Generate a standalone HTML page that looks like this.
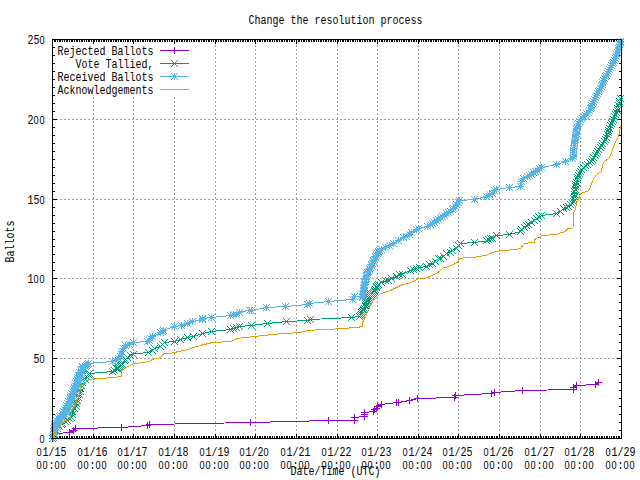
<!DOCTYPE html><html><head><meta charset="utf-8"><title>Change the resolution process</title><style>html,body{margin:0;padding:0;background:#fff;}svg{display:block}text{font-family:"Liberation Mono","DejaVu Sans Mono",monospace;font-size:12px;fill:#000}.z{font-family:"Liberation Sans",sans-serif;font-size:11px}</style></head><body>
<svg width="640" height="480" viewBox="0 0 640 480">
<rect width="640" height="480" fill="#fff"/>
<defs>
<path id="mp" d="M-3 0h1v1h-1zM-2 0h1v1h-1zM-1 0h1v1h-1zM0 0h1v1h-1zM1 0h1v1h-1zM2 0h1v1h-1zM3 0h1v1h-1zM0 -3h1v1h-1zM0 -2h1v1h-1zM0 -1h1v1h-1zM0 1h1v1h-1zM0 2h1v1h-1zM0 3h1v1h-1z"/>
<path id="mx" d="M-3 -3h1v1h-1zM-2 -2h1v1h-1zM-1 -1h1v1h-1zM0 0h1v1h-1zM1 1h1v1h-1zM2 2h1v1h-1zM3 3h1v1h-1zM-3 3h1v1h-1zM-2 2h1v1h-1zM-1 1h1v1h-1zM1 -1h1v1h-1zM2 -2h1v1h-1zM3 -3h1v1h-1z"/>
<path id="ms" d="M-3 -3h1v1h-1zM-3 0h1v1h-1zM-3 3h1v1h-1zM0 2h1v1h-1zM2 2h1v1h-1zM1 0h1v1h-1zM-2 -2h1v1h-1zM-1 -1h1v1h-1zM-1 1h1v1h-1zM3 -3h1v1h-1zM3 0h1v1h-1zM3 3h1v1h-1zM0 -1h1v1h-1zM0 -2h1v1h-1zM0 1h1v1h-1zM2 -2h1v1h-1zM-2 0h1v1h-1zM-1 0h1v1h-1zM0 -3h1v1h-1zM0 0h1v1h-1zM1 1h1v1h-1zM0 3h1v1h-1zM2 0h1v1h-1zM1 -1h1v1h-1zM-2 2h1v1h-1z"/>
</defs>
<path d="M93.5 439V97M133.5 439V97M174.5 439V97M215.5 439V40M255.5 439V40M296.5 439V40M337.5 439V40M377.5 439V40M418.5 439V40M458.5 439V40M499.5 439V40M540.5 439V40M580.5 439V40M52 358.5H621M52 278.5H621M52 199.5H621M52 119.5H621" stroke="#a0a0a0" stroke-width="1" stroke-dasharray="2 2" fill="none" shape-rendering="crispEdges"/>
<path d="M53 438h4v1h-4zM617 438h4v1h-4zM53 430h2v1h-2zM619 430h2v1h-2zM53 422h2v1h-2zM619 422h2v1h-2zM53 414h2v1h-2zM619 414h2v1h-2zM53 406h2v1h-2zM619 406h2v1h-2zM53 398h2v1h-2zM619 398h2v1h-2zM53 390h2v1h-2zM619 390h2v1h-2zM53 382h2v1h-2zM619 382h2v1h-2zM53 374h2v1h-2zM619 374h2v1h-2zM53 366h2v1h-2zM619 366h2v1h-2zM53 358h4v1h-4zM617 358h4v1h-4zM53 350h2v1h-2zM619 350h2v1h-2zM53 342h2v1h-2zM619 342h2v1h-2zM53 334h2v1h-2zM619 334h2v1h-2zM53 326h2v1h-2zM619 326h2v1h-2zM53 318h2v1h-2zM619 318h2v1h-2zM53 310h2v1h-2zM619 310h2v1h-2zM53 302h2v1h-2zM619 302h2v1h-2zM53 294h2v1h-2zM619 294h2v1h-2zM53 286h2v1h-2zM619 286h2v1h-2zM53 278h4v1h-4zM617 278h4v1h-4zM53 270h2v1h-2zM619 270h2v1h-2zM53 262h2v1h-2zM619 262h2v1h-2zM53 254h2v1h-2zM619 254h2v1h-2zM53 246h2v1h-2zM619 246h2v1h-2zM53 239h2v1h-2zM619 239h2v1h-2zM53 231h2v1h-2zM619 231h2v1h-2zM53 223h2v1h-2zM619 223h2v1h-2zM53 215h2v1h-2zM619 215h2v1h-2zM53 207h2v1h-2zM619 207h2v1h-2zM53 199h4v1h-4zM617 199h4v1h-4zM53 191h2v1h-2zM619 191h2v1h-2zM53 183h2v1h-2zM619 183h2v1h-2zM53 175h2v1h-2zM619 175h2v1h-2zM53 167h2v1h-2zM619 167h2v1h-2zM53 159h2v1h-2zM619 159h2v1h-2zM53 151h2v1h-2zM619 151h2v1h-2zM53 143h2v1h-2zM619 143h2v1h-2zM53 135h2v1h-2zM619 135h2v1h-2zM53 127h2v1h-2zM619 127h2v1h-2zM53 119h4v1h-4zM617 119h4v1h-4zM53 111h2v1h-2zM619 111h2v1h-2zM53 103h2v1h-2zM619 103h2v1h-2zM53 95h2v1h-2zM619 95h2v1h-2zM53 87h2v1h-2zM619 87h2v1h-2zM53 79h2v1h-2zM619 79h2v1h-2zM53 71h2v1h-2zM619 71h2v1h-2zM53 63h2v1h-2zM619 63h2v1h-2zM53 55h2v1h-2zM619 55h2v1h-2zM53 47h2v1h-2zM619 47h2v1h-2zM53 39h4v1h-4zM617 39h4v1h-4zM52 434h1v4h-1zM52 40h1v4h-1zM54 436h1v2h-1zM54 40h1v2h-1zM55 436h1v2h-1zM55 40h1v2h-1zM57 436h1v2h-1zM57 40h1v2h-1zM59 436h1v2h-1zM59 40h1v2h-1zM60 436h1v2h-1zM60 40h1v2h-1zM62 436h1v2h-1zM62 40h1v2h-1zM64 436h1v2h-1zM64 40h1v2h-1zM66 436h1v2h-1zM66 40h1v2h-1zM67 436h1v2h-1zM67 40h1v2h-1zM69 436h1v2h-1zM69 40h1v2h-1zM71 436h1v2h-1zM71 40h1v2h-1zM72 436h1v2h-1zM72 40h1v2h-1zM74 436h1v2h-1zM74 40h1v2h-1zM76 436h1v2h-1zM76 40h1v2h-1zM77 436h1v2h-1zM77 40h1v2h-1zM79 436h1v2h-1zM79 40h1v2h-1zM81 436h1v2h-1zM81 40h1v2h-1zM82 436h1v2h-1zM82 40h1v2h-1zM84 436h1v2h-1zM84 40h1v2h-1zM86 436h1v2h-1zM86 40h1v2h-1zM88 436h1v2h-1zM88 40h1v2h-1zM89 436h1v2h-1zM89 40h1v2h-1zM91 436h1v2h-1zM91 40h1v2h-1zM93 434h1v4h-1zM93 40h1v4h-1zM94 436h1v2h-1zM94 40h1v2h-1zM96 436h1v2h-1zM96 40h1v2h-1zM98 436h1v2h-1zM98 40h1v2h-1zM99 436h1v2h-1zM99 40h1v2h-1zM101 436h1v2h-1zM101 40h1v2h-1zM103 436h1v2h-1zM103 40h1v2h-1zM104 436h1v2h-1zM104 40h1v2h-1zM106 436h1v2h-1zM106 40h1v2h-1zM108 436h1v2h-1zM108 40h1v2h-1zM110 436h1v2h-1zM110 40h1v2h-1zM111 436h1v2h-1zM111 40h1v2h-1zM113 436h1v2h-1zM113 40h1v2h-1zM115 436h1v2h-1zM115 40h1v2h-1zM116 436h1v2h-1zM116 40h1v2h-1zM118 436h1v2h-1zM118 40h1v2h-1zM120 436h1v2h-1zM120 40h1v2h-1zM121 436h1v2h-1zM121 40h1v2h-1zM123 436h1v2h-1zM123 40h1v2h-1zM125 436h1v2h-1zM125 40h1v2h-1zM127 436h1v2h-1zM127 40h1v2h-1zM128 436h1v2h-1zM128 40h1v2h-1zM130 436h1v2h-1zM130 40h1v2h-1zM132 436h1v2h-1zM132 40h1v2h-1zM133 434h1v4h-1zM133 40h1v4h-1zM135 436h1v2h-1zM135 40h1v2h-1zM137 436h1v2h-1zM137 40h1v2h-1zM138 436h1v2h-1zM138 40h1v2h-1zM140 436h1v2h-1zM140 40h1v2h-1zM142 436h1v2h-1zM142 40h1v2h-1zM143 436h1v2h-1zM143 40h1v2h-1zM145 436h1v2h-1zM145 40h1v2h-1zM147 436h1v2h-1zM147 40h1v2h-1zM149 436h1v2h-1zM149 40h1v2h-1zM150 436h1v2h-1zM150 40h1v2h-1zM152 436h1v2h-1zM152 40h1v2h-1zM154 436h1v2h-1zM154 40h1v2h-1zM155 436h1v2h-1zM155 40h1v2h-1zM157 436h1v2h-1zM157 40h1v2h-1zM159 436h1v2h-1zM159 40h1v2h-1zM160 436h1v2h-1zM160 40h1v2h-1zM162 436h1v2h-1zM162 40h1v2h-1zM164 436h1v2h-1zM164 40h1v2h-1zM165 436h1v2h-1zM165 40h1v2h-1zM167 436h1v2h-1zM167 40h1v2h-1zM169 436h1v2h-1zM169 40h1v2h-1zM171 436h1v2h-1zM171 40h1v2h-1zM172 436h1v2h-1zM172 40h1v2h-1zM174 434h1v4h-1zM174 40h1v4h-1zM176 436h1v2h-1zM176 40h1v2h-1zM177 436h1v2h-1zM177 40h1v2h-1zM179 436h1v2h-1zM179 40h1v2h-1zM181 436h1v2h-1zM181 40h1v2h-1zM182 436h1v2h-1zM182 40h1v2h-1zM184 436h1v2h-1zM184 40h1v2h-1zM186 436h1v2h-1zM186 40h1v2h-1zM187 436h1v2h-1zM187 40h1v2h-1zM189 436h1v2h-1zM189 40h1v2h-1zM191 436h1v2h-1zM191 40h1v2h-1zM193 436h1v2h-1zM193 40h1v2h-1zM194 436h1v2h-1zM194 40h1v2h-1zM196 436h1v2h-1zM196 40h1v2h-1zM198 436h1v2h-1zM198 40h1v2h-1zM199 436h1v2h-1zM199 40h1v2h-1zM201 436h1v2h-1zM201 40h1v2h-1zM203 436h1v2h-1zM203 40h1v2h-1zM204 436h1v2h-1zM204 40h1v2h-1zM206 436h1v2h-1zM206 40h1v2h-1zM208 436h1v2h-1zM208 40h1v2h-1zM209 436h1v2h-1zM209 40h1v2h-1zM211 436h1v2h-1zM211 40h1v2h-1zM213 436h1v2h-1zM213 40h1v2h-1zM215 434h1v4h-1zM215 40h1v4h-1zM216 436h1v2h-1zM216 40h1v2h-1zM218 436h1v2h-1zM218 40h1v2h-1zM220 436h1v2h-1zM220 40h1v2h-1zM221 436h1v2h-1zM221 40h1v2h-1zM223 436h1v2h-1zM223 40h1v2h-1zM225 436h1v2h-1zM225 40h1v2h-1zM226 436h1v2h-1zM226 40h1v2h-1zM228 436h1v2h-1zM228 40h1v2h-1zM230 436h1v2h-1zM230 40h1v2h-1zM232 436h1v2h-1zM232 40h1v2h-1zM233 436h1v2h-1zM233 40h1v2h-1zM235 436h1v2h-1zM235 40h1v2h-1zM237 436h1v2h-1zM237 40h1v2h-1zM238 436h1v2h-1zM238 40h1v2h-1zM240 436h1v2h-1zM240 40h1v2h-1zM242 436h1v2h-1zM242 40h1v2h-1zM243 436h1v2h-1zM243 40h1v2h-1zM245 436h1v2h-1zM245 40h1v2h-1zM247 436h1v2h-1zM247 40h1v2h-1zM248 436h1v2h-1zM248 40h1v2h-1zM250 436h1v2h-1zM250 40h1v2h-1zM252 436h1v2h-1zM252 40h1v2h-1zM254 436h1v2h-1zM254 40h1v2h-1zM255 434h1v4h-1zM255 40h1v4h-1zM257 436h1v2h-1zM257 40h1v2h-1zM259 436h1v2h-1zM259 40h1v2h-1zM260 436h1v2h-1zM260 40h1v2h-1zM262 436h1v2h-1zM262 40h1v2h-1zM264 436h1v2h-1zM264 40h1v2h-1zM265 436h1v2h-1zM265 40h1v2h-1zM267 436h1v2h-1zM267 40h1v2h-1zM269 436h1v2h-1zM269 40h1v2h-1zM270 436h1v2h-1zM270 40h1v2h-1zM272 436h1v2h-1zM272 40h1v2h-1zM274 436h1v2h-1zM274 40h1v2h-1zM276 436h1v2h-1zM276 40h1v2h-1zM277 436h1v2h-1zM277 40h1v2h-1zM279 436h1v2h-1zM279 40h1v2h-1zM281 436h1v2h-1zM281 40h1v2h-1zM282 436h1v2h-1zM282 40h1v2h-1zM284 436h1v2h-1zM284 40h1v2h-1zM286 436h1v2h-1zM286 40h1v2h-1zM287 436h1v2h-1zM287 40h1v2h-1zM289 436h1v2h-1zM289 40h1v2h-1zM291 436h1v2h-1zM291 40h1v2h-1zM292 436h1v2h-1zM292 40h1v2h-1zM294 436h1v2h-1zM294 40h1v2h-1zM296 434h1v4h-1zM296 40h1v4h-1zM298 436h1v2h-1zM298 40h1v2h-1zM299 436h1v2h-1zM299 40h1v2h-1zM301 436h1v2h-1zM301 40h1v2h-1zM303 436h1v2h-1zM303 40h1v2h-1zM304 436h1v2h-1zM304 40h1v2h-1zM306 436h1v2h-1zM306 40h1v2h-1zM308 436h1v2h-1zM308 40h1v2h-1zM309 436h1v2h-1zM309 40h1v2h-1zM311 436h1v2h-1zM311 40h1v2h-1zM313 436h1v2h-1zM313 40h1v2h-1zM314 436h1v2h-1zM314 40h1v2h-1zM316 436h1v2h-1zM316 40h1v2h-1zM318 436h1v2h-1zM318 40h1v2h-1zM320 436h1v2h-1zM320 40h1v2h-1zM321 436h1v2h-1zM321 40h1v2h-1zM323 436h1v2h-1zM323 40h1v2h-1zM325 436h1v2h-1zM325 40h1v2h-1zM326 436h1v2h-1zM326 40h1v2h-1zM328 436h1v2h-1zM328 40h1v2h-1zM330 436h1v2h-1zM330 40h1v2h-1zM331 436h1v2h-1zM331 40h1v2h-1zM333 436h1v2h-1zM333 40h1v2h-1zM335 436h1v2h-1zM335 40h1v2h-1zM337 434h1v4h-1zM337 40h1v4h-1zM338 436h1v2h-1zM338 40h1v2h-1zM340 436h1v2h-1zM340 40h1v2h-1zM342 436h1v2h-1zM342 40h1v2h-1zM343 436h1v2h-1zM343 40h1v2h-1zM345 436h1v2h-1zM345 40h1v2h-1zM347 436h1v2h-1zM347 40h1v2h-1zM348 436h1v2h-1zM348 40h1v2h-1zM350 436h1v2h-1zM350 40h1v2h-1zM352 436h1v2h-1zM352 40h1v2h-1zM353 436h1v2h-1zM353 40h1v2h-1zM355 436h1v2h-1zM355 40h1v2h-1zM357 436h1v2h-1zM357 40h1v2h-1zM359 436h1v2h-1zM359 40h1v2h-1zM360 436h1v2h-1zM360 40h1v2h-1zM362 436h1v2h-1zM362 40h1v2h-1zM364 436h1v2h-1zM364 40h1v2h-1zM365 436h1v2h-1zM365 40h1v2h-1zM367 436h1v2h-1zM367 40h1v2h-1zM369 436h1v2h-1zM369 40h1v2h-1zM370 436h1v2h-1zM370 40h1v2h-1zM372 436h1v2h-1zM372 40h1v2h-1zM374 436h1v2h-1zM374 40h1v2h-1zM375 436h1v2h-1zM375 40h1v2h-1zM377 434h1v4h-1zM377 40h1v4h-1zM379 436h1v2h-1zM379 40h1v2h-1zM381 436h1v2h-1zM381 40h1v2h-1zM382 436h1v2h-1zM382 40h1v2h-1zM384 436h1v2h-1zM384 40h1v2h-1zM386 436h1v2h-1zM386 40h1v2h-1zM387 436h1v2h-1zM387 40h1v2h-1zM389 436h1v2h-1zM389 40h1v2h-1zM391 436h1v2h-1zM391 40h1v2h-1zM392 436h1v2h-1zM392 40h1v2h-1zM394 436h1v2h-1zM394 40h1v2h-1zM396 436h1v2h-1zM396 40h1v2h-1zM397 436h1v2h-1zM397 40h1v2h-1zM399 436h1v2h-1zM399 40h1v2h-1zM401 436h1v2h-1zM401 40h1v2h-1zM403 436h1v2h-1zM403 40h1v2h-1zM404 436h1v2h-1zM404 40h1v2h-1zM406 436h1v2h-1zM406 40h1v2h-1zM408 436h1v2h-1zM408 40h1v2h-1zM409 436h1v2h-1zM409 40h1v2h-1zM411 436h1v2h-1zM411 40h1v2h-1zM413 436h1v2h-1zM413 40h1v2h-1zM414 436h1v2h-1zM414 40h1v2h-1zM416 436h1v2h-1zM416 40h1v2h-1zM418 434h1v4h-1zM418 40h1v4h-1zM419 436h1v2h-1zM419 40h1v2h-1zM421 436h1v2h-1zM421 40h1v2h-1zM423 436h1v2h-1zM423 40h1v2h-1zM425 436h1v2h-1zM425 40h1v2h-1zM426 436h1v2h-1zM426 40h1v2h-1zM428 436h1v2h-1zM428 40h1v2h-1zM430 436h1v2h-1zM430 40h1v2h-1zM431 436h1v2h-1zM431 40h1v2h-1zM433 436h1v2h-1zM433 40h1v2h-1zM435 436h1v2h-1zM435 40h1v2h-1zM436 436h1v2h-1zM436 40h1v2h-1zM438 436h1v2h-1zM438 40h1v2h-1zM440 436h1v2h-1zM440 40h1v2h-1zM441 436h1v2h-1zM441 40h1v2h-1zM443 436h1v2h-1zM443 40h1v2h-1zM445 436h1v2h-1zM445 40h1v2h-1zM447 436h1v2h-1zM447 40h1v2h-1zM448 436h1v2h-1zM448 40h1v2h-1zM450 436h1v2h-1zM450 40h1v2h-1zM452 436h1v2h-1zM452 40h1v2h-1zM453 436h1v2h-1zM453 40h1v2h-1zM455 436h1v2h-1zM455 40h1v2h-1zM457 436h1v2h-1zM457 40h1v2h-1zM458 434h1v4h-1zM458 40h1v4h-1zM460 436h1v2h-1zM460 40h1v2h-1zM462 436h1v2h-1zM462 40h1v2h-1zM464 436h1v2h-1zM464 40h1v2h-1zM465 436h1v2h-1zM465 40h1v2h-1zM467 436h1v2h-1zM467 40h1v2h-1zM469 436h1v2h-1zM469 40h1v2h-1zM470 436h1v2h-1zM470 40h1v2h-1zM472 436h1v2h-1zM472 40h1v2h-1zM474 436h1v2h-1zM474 40h1v2h-1zM475 436h1v2h-1zM475 40h1v2h-1zM477 436h1v2h-1zM477 40h1v2h-1zM479 436h1v2h-1zM479 40h1v2h-1zM480 436h1v2h-1zM480 40h1v2h-1zM482 436h1v2h-1zM482 40h1v2h-1zM484 436h1v2h-1zM484 40h1v2h-1zM486 436h1v2h-1zM486 40h1v2h-1zM487 436h1v2h-1zM487 40h1v2h-1zM489 436h1v2h-1zM489 40h1v2h-1zM491 436h1v2h-1zM491 40h1v2h-1zM492 436h1v2h-1zM492 40h1v2h-1zM494 436h1v2h-1zM494 40h1v2h-1zM496 436h1v2h-1zM496 40h1v2h-1zM497 436h1v2h-1zM497 40h1v2h-1zM499 434h1v4h-1zM499 40h1v4h-1zM501 436h1v2h-1zM501 40h1v2h-1zM502 436h1v2h-1zM502 40h1v2h-1zM504 436h1v2h-1zM504 40h1v2h-1zM506 436h1v2h-1zM506 40h1v2h-1zM508 436h1v2h-1zM508 40h1v2h-1zM509 436h1v2h-1zM509 40h1v2h-1zM511 436h1v2h-1zM511 40h1v2h-1zM513 436h1v2h-1zM513 40h1v2h-1zM514 436h1v2h-1zM514 40h1v2h-1zM516 436h1v2h-1zM516 40h1v2h-1zM518 436h1v2h-1zM518 40h1v2h-1zM519 436h1v2h-1zM519 40h1v2h-1zM521 436h1v2h-1zM521 40h1v2h-1zM523 436h1v2h-1zM523 40h1v2h-1zM524 436h1v2h-1zM524 40h1v2h-1zM526 436h1v2h-1zM526 40h1v2h-1zM528 436h1v2h-1zM528 40h1v2h-1zM530 436h1v2h-1zM530 40h1v2h-1zM531 436h1v2h-1zM531 40h1v2h-1zM533 436h1v2h-1zM533 40h1v2h-1zM535 436h1v2h-1zM535 40h1v2h-1zM536 436h1v2h-1zM536 40h1v2h-1zM538 436h1v2h-1zM538 40h1v2h-1zM540 434h1v4h-1zM540 40h1v4h-1zM541 436h1v2h-1zM541 40h1v2h-1zM543 436h1v2h-1zM543 40h1v2h-1zM545 436h1v2h-1zM545 40h1v2h-1zM546 436h1v2h-1zM546 40h1v2h-1zM548 436h1v2h-1zM548 40h1v2h-1zM550 436h1v2h-1zM550 40h1v2h-1zM552 436h1v2h-1zM552 40h1v2h-1zM553 436h1v2h-1zM553 40h1v2h-1zM555 436h1v2h-1zM555 40h1v2h-1zM557 436h1v2h-1zM557 40h1v2h-1zM558 436h1v2h-1zM558 40h1v2h-1zM560 436h1v2h-1zM560 40h1v2h-1zM562 436h1v2h-1zM562 40h1v2h-1zM563 436h1v2h-1zM563 40h1v2h-1zM565 436h1v2h-1zM565 40h1v2h-1zM567 436h1v2h-1zM567 40h1v2h-1zM569 436h1v2h-1zM569 40h1v2h-1zM570 436h1v2h-1zM570 40h1v2h-1zM572 436h1v2h-1zM572 40h1v2h-1zM574 436h1v2h-1zM574 40h1v2h-1zM575 436h1v2h-1zM575 40h1v2h-1zM577 436h1v2h-1zM577 40h1v2h-1zM579 436h1v2h-1zM579 40h1v2h-1zM580 434h1v4h-1zM580 40h1v4h-1zM582 436h1v2h-1zM582 40h1v2h-1zM584 436h1v2h-1zM584 40h1v2h-1zM585 436h1v2h-1zM585 40h1v2h-1zM587 436h1v2h-1zM587 40h1v2h-1zM589 436h1v2h-1zM589 40h1v2h-1zM591 436h1v2h-1zM591 40h1v2h-1zM592 436h1v2h-1zM592 40h1v2h-1zM594 436h1v2h-1zM594 40h1v2h-1zM596 436h1v2h-1zM596 40h1v2h-1zM597 436h1v2h-1zM597 40h1v2h-1zM599 436h1v2h-1zM599 40h1v2h-1zM601 436h1v2h-1zM601 40h1v2h-1zM602 436h1v2h-1zM602 40h1v2h-1zM604 436h1v2h-1zM604 40h1v2h-1zM606 436h1v2h-1zM606 40h1v2h-1zM607 436h1v2h-1zM607 40h1v2h-1zM609 436h1v2h-1zM609 40h1v2h-1zM611 436h1v2h-1zM611 40h1v2h-1zM613 436h1v2h-1zM613 40h1v2h-1zM614 436h1v2h-1zM614 40h1v2h-1zM616 436h1v2h-1zM616 40h1v2h-1zM618 436h1v2h-1zM618 40h1v2h-1zM619 436h1v2h-1zM619 40h1v2h-1zM621 434h1v4h-1zM621 40h1v4h-1z" fill="#000" shape-rendering="crispEdges"/>
<text transform="scale(0.83333 1)" x="298.32 305.52 312.72 319.92 327.12 334.32 341.52 348.72 355.92 363.12 370.32 377.52 384.72 391.92 399.12 406.32 413.52 420.72 427.92 435.12 442.32 449.52 456.72 463.92 471.12 478.32 485.52 492.72 499.92" y="24">Change the resolution process</text>
<text transform="scale(0.83333 1)" x="47.52" y="443"><tspan class="z">0</tspan></text>
<text transform="scale(0.83333 1)" x="40.32 47.52" y="363">5<tspan class="z">0</tspan></text>
<text transform="scale(0.83333 1)" x="33.12 40.32 47.52" y="283">1<tspan class="z">0</tspan><tspan class="z">0</tspan></text>
<text transform="scale(0.83333 1)" x="33.12 40.32 47.52" y="204">15<tspan class="z">0</tspan></text>
<text transform="scale(0.83333 1)" x="33.12 40.32 47.52" y="124">2<tspan class="z">0</tspan><tspan class="z">0</tspan></text>
<text transform="scale(0.83333 1)" x="33.12 40.32 47.52" y="44">25<tspan class="z">0</tspan></text>
<text transform="scale(0.83333 1)" x="43.92 51.12 58.32 65.52 72.72" y="456"><tspan class="z">0</tspan>1/15</text>
<text transform="scale(0.83333 1)" x="43.92 51.12 58.32 65.52 72.72" y="469"><tspan class="z">0</tspan><tspan class="z">0</tspan>:<tspan class="z">0</tspan><tspan class="z">0</tspan></text>
<text transform="scale(0.83333 1)" x="93.12 100.32 107.52 114.72 121.92" y="456"><tspan class="z">0</tspan>1/16</text>
<text transform="scale(0.83333 1)" x="93.12 100.32 107.52 114.72 121.92" y="469"><tspan class="z">0</tspan><tspan class="z">0</tspan>:<tspan class="z">0</tspan><tspan class="z">0</tspan></text>
<text transform="scale(0.83333 1)" x="141.12 148.32 155.52 162.72 169.92" y="456"><tspan class="z">0</tspan>1/17</text>
<text transform="scale(0.83333 1)" x="141.12 148.32 155.52 162.72 169.92" y="469"><tspan class="z">0</tspan><tspan class="z">0</tspan>:<tspan class="z">0</tspan><tspan class="z">0</tspan></text>
<text transform="scale(0.83333 1)" x="190.32 197.52 204.72 211.92 219.12" y="456"><tspan class="z">0</tspan>1/18</text>
<text transform="scale(0.83333 1)" x="190.32 197.52 204.72 211.92 219.12" y="469"><tspan class="z">0</tspan><tspan class="z">0</tspan>:<tspan class="z">0</tspan><tspan class="z">0</tspan></text>
<text transform="scale(0.83333 1)" x="239.52 246.72 253.92 261.12 268.32" y="456"><tspan class="z">0</tspan>1/19</text>
<text transform="scale(0.83333 1)" x="239.52 246.72 253.92 261.12 268.32" y="469"><tspan class="z">0</tspan><tspan class="z">0</tspan>:<tspan class="z">0</tspan><tspan class="z">0</tspan></text>
<text transform="scale(0.83333 1)" x="287.52 294.72 301.92 309.12 316.32" y="456"><tspan class="z">0</tspan>1/2<tspan class="z">0</tspan></text>
<text transform="scale(0.83333 1)" x="287.52 294.72 301.92 309.12 316.32" y="469"><tspan class="z">0</tspan><tspan class="z">0</tspan>:<tspan class="z">0</tspan><tspan class="z">0</tspan></text>
<text transform="scale(0.83333 1)" x="336.72 343.92 351.12 358.32 365.52" y="456"><tspan class="z">0</tspan>1/21</text>
<text transform="scale(0.83333 1)" x="336.72 343.92 351.12 358.32 365.52" y="469"><tspan class="z">0</tspan><tspan class="z">0</tspan>:<tspan class="z">0</tspan><tspan class="z">0</tspan></text>
<text transform="scale(0.83333 1)" x="385.92 393.12 400.32 407.52 414.72" y="456"><tspan class="z">0</tspan>1/22</text>
<text transform="scale(0.83333 1)" x="385.92 393.12 400.32 407.52 414.72" y="469"><tspan class="z">0</tspan><tspan class="z">0</tspan>:<tspan class="z">0</tspan><tspan class="z">0</tspan></text>
<text transform="scale(0.83333 1)" x="433.92 441.12 448.32 455.52 462.72" y="456"><tspan class="z">0</tspan>1/23</text>
<text transform="scale(0.83333 1)" x="433.92 441.12 448.32 455.52 462.72" y="469"><tspan class="z">0</tspan><tspan class="z">0</tspan>:<tspan class="z">0</tspan><tspan class="z">0</tspan></text>
<text transform="scale(0.83333 1)" x="483.12 490.32 497.52 504.72 511.92" y="456"><tspan class="z">0</tspan>1/24</text>
<text transform="scale(0.83333 1)" x="483.12 490.32 497.52 504.72 511.92" y="469"><tspan class="z">0</tspan><tspan class="z">0</tspan>:<tspan class="z">0</tspan><tspan class="z">0</tspan></text>
<text transform="scale(0.83333 1)" x="531.12 538.32 545.52 552.72 559.92" y="456"><tspan class="z">0</tspan>1/25</text>
<text transform="scale(0.83333 1)" x="531.12 538.32 545.52 552.72 559.92" y="469"><tspan class="z">0</tspan><tspan class="z">0</tspan>:<tspan class="z">0</tspan><tspan class="z">0</tspan></text>
<text transform="scale(0.83333 1)" x="580.32 587.52 594.72 601.92 609.12" y="456"><tspan class="z">0</tspan>1/26</text>
<text transform="scale(0.83333 1)" x="580.32 587.52 594.72 601.92 609.12" y="469"><tspan class="z">0</tspan><tspan class="z">0</tspan>:<tspan class="z">0</tspan><tspan class="z">0</tspan></text>
<text transform="scale(0.83333 1)" x="629.52 636.72 643.92 651.12 658.32" y="456"><tspan class="z">0</tspan>1/27</text>
<text transform="scale(0.83333 1)" x="629.52 636.72 643.92 651.12 658.32" y="469"><tspan class="z">0</tspan><tspan class="z">0</tspan>:<tspan class="z">0</tspan><tspan class="z">0</tspan></text>
<text transform="scale(0.83333 1)" x="677.52 684.72 691.92 699.12 706.32" y="456"><tspan class="z">0</tspan>1/28</text>
<text transform="scale(0.83333 1)" x="677.52 684.72 691.92 699.12 706.32" y="469"><tspan class="z">0</tspan><tspan class="z">0</tspan>:<tspan class="z">0</tspan><tspan class="z">0</tspan></text>
<text transform="scale(0.83333 1)" x="726.72 733.92 741.12 748.32 755.52" y="456"><tspan class="z">0</tspan>1/29</text>
<text transform="scale(0.83333 1)" x="726.72 733.92 741.12 748.32 755.52" y="469"><tspan class="z">0</tspan><tspan class="z">0</tspan>:<tspan class="z">0</tspan><tspan class="z">0</tspan></text>
<text transform="scale(0.83333 1)" x="348.72 355.92 363.12 370.32 377.52 384.72 391.92 399.12 406.32 413.52 420.72 427.92 435.12 442.32 449.52" y="475">Date/Time (UTC)</text>
<g transform="translate(14,262) rotate(-90)">
<text transform="scale(0.83333 1)" x="-0.48 6.72 13.92 21.12 28.32 35.52 42.72" y="0">Ballots</text>
</g>
<text transform="scale(0.83333 1)" x="69.12 76.32 83.52 90.72 97.92 105.12 112.32 119.52 126.72 133.92 141.12 148.32 155.52 162.72 169.92 177.12" y="55">Rejected Ballots</text>
<text transform="scale(0.83333 1)" x="90.72 97.92 105.12 112.32 119.52 126.72 133.92 141.12 148.32 155.52 162.72 169.92 177.12" y="68">Vote Tallied,</text>
<text transform="scale(0.83333 1)" x="69.12 76.32 83.52 90.72 97.92 105.12 112.32 119.52 126.72 133.92 141.12 148.32 155.52 162.72 169.92 177.12" y="81">Received Ballots</text>
<text transform="scale(0.83333 1)" x="69.12 76.32 83.52 90.72 97.92 105.12 112.32 119.52 126.72 133.92 141.12 148.32 155.52 162.72 169.92 177.12" y="94">Acknowledgements</text>
<path d="M52.5 438.5 L56.5 433.5 L69.5 432.5 L73.5 430.5 L75.5 428.5 L121.5 427.5 L147.5 425.5 L149.5 424.5 L250.5 422.5 L328.5 420.5 L354.5 420.5 L354.5 417.5 L364.5 416.5 L364.5 414.5 L364.5 412.5 L373.5 411.5 L374.5 409.5 L376.5 408.5 L377.5 406.5 L381.5 404.5 L396.5 402.5 L398.5 402.5 L409.5 400.5 L417.5 398.5 L454.5 397.5 L455.5 395.5 L491.5 393.5 L494.5 392.5 L522.5 390.5 L573.5 389.5 L573.5 387.5 L576.5 385.5 L595.5 384.5 L598.5 382.5" stroke="#9400d3" stroke-width="1" fill="none" stroke-linejoin="miter" shape-rendering="crispEdges"/>
<g fill="#9400d3"><use href="#mp" x="52" y="438"/><use href="#mp" x="56" y="433"/><use href="#mp" x="69" y="432"/><use href="#mp" x="73" y="430"/><use href="#mp" x="75" y="428"/><use href="#mp" x="121" y="427"/><use href="#mp" x="147" y="425"/><use href="#mp" x="149" y="424"/><use href="#mp" x="250" y="422"/><use href="#mp" x="328" y="420"/><use href="#mp" x="354" y="420"/><use href="#mp" x="354" y="417"/><use href="#mp" x="364" y="416"/><use href="#mp" x="364" y="414"/><use href="#mp" x="364" y="412"/><use href="#mp" x="373" y="411"/><use href="#mp" x="374" y="409"/><use href="#mp" x="376" y="408"/><use href="#mp" x="377" y="406"/><use href="#mp" x="381" y="404"/><use href="#mp" x="396" y="402"/><use href="#mp" x="398" y="402"/><use href="#mp" x="409" y="400"/><use href="#mp" x="417" y="398"/><use href="#mp" x="454" y="397"/><use href="#mp" x="455" y="395"/><use href="#mp" x="491" y="393"/><use href="#mp" x="494" y="392"/><use href="#mp" x="522" y="390"/><use href="#mp" x="573" y="389"/><use href="#mp" x="573" y="387"/><use href="#mp" x="576" y="385"/><use href="#mp" x="595" y="384"/><use href="#mp" x="598" y="382"/></g>
<path d="M52.5 438.5 L54.5 434.5 L56.0 431.5 L57.5 428.5 L59.5 426.5 L61.5 424.5 L63.0 423.5 L65.5 421.5 L67.5 420.5 L69.5 419.0 L71.5 417.5 L72.5 414.5 L73.0 411.5 L74.0 408.5 L76.0 406.5 L77.0 403.5 L77.5 400.5 L78.5 397.5 L79.5 394.5 L80.5 391.5 L81.0 388.5 L81.5 385.5 L82.5 382.5 L85.5 379.5 L86.5 376.5 L88.5 374.5 L89.5 373.5 L112.5 371.5 L114.5 370.5 L116.5 369.0 L117.5 368.5 L118.5 368.0 L119.5 367.5 L120.5 366.5 L121.5 365.5 L122.5 364.5 L124.5 360.5 L125.5 359.5 L127.5 357.5 L130.5 355.5 L133.5 354.0 L148.5 352.5 L152.5 350.0 L154.5 348.5 L160.5 346.5 L162.5 344.5 L164.5 342.5 L174.5 341.5 L180.5 339.5 L187.5 337.5 L193.5 336.5 L202.5 333.5 L211.5 331.5 L230.5 329.5 L233.5 328.5 L236.5 327.5 L239.5 326.5 L251.5 325.5 L267.5 323.5 L286.5 321.5 L307.5 320.5 L310.5 319.5 L351.5 317.5 L359.5 316.5 L360.3 315.3 L361.1 314.2 L361.8 313.0 L362.4 311.7 L363.0 310.5 L363.7 309.2 L364.4 308.0 L365.0 306.8 L365.7 305.5 L366.1 304.2 L366.6 302.9 L367.1 301.6 L367.6 300.3 L368.2 299.0 L368.9 297.8 L369.5 296.5 L370.4 295.5 L371.3 294.4 L372.2 293.3 L373.1 292.3 L374.0 291.2 L374.9 290.1 L375.7 289.0 L376.4 287.8 L377.0 286.5 L377.5 285.5 L378.5 284.5 L381.5 282.5 L385.5 281.0 L388.5 280.0 L391.5 278.5 L396.5 276.5 L399.5 275.0 L402.5 274.0 L410.5 270.5 L413.5 269.5 L417.0 268.0 L419.5 267.5 L426.5 266.5 L429.5 265.0 L432.0 263.5 L435.5 261.5 L438.0 259.0 L440.5 258.0 L443.5 256.0 L447.0 253.5 L450.0 252.0 L453.0 250.0 L456.0 248.5 L458.5 245.5 L460.5 243.5 L474.5 242.5 L486.5 241.0 L488.5 239.5 L490.5 238.5 L492.5 238.0 L496.5 235.5 L509.5 234.5 L520.5 231.5 L521.5 229.5 L524.0 227.5 L526.5 225.5 L528.5 224.5 L531.5 222.5 L534.0 221.0 L536.5 219.0 L539.0 217.0 L541.5 215.5 L556.5 213.5 L560.0 211.5 L563.5 209.0 L566.5 207.5 L568.5 206.5 L570.5 205.0 L572.5 203.5 L573.0 201.2 L573.5 198.8 L574.0 196.5 L574.4 194.1 L574.8 191.7 L575.2 189.4 L575.6 187.0 L576.0 184.6 L576.6 182.3 L577.3 180.0 L577.9 177.7 L578.6 175.4 L579.6 173.2 L580.7 171.1 L581.9 169.1 L583.6 167.4 L585.3 165.7 L587.2 164.2 L589.1 162.7 L591.0 161.3 L592.6 159.5 L593.9 157.5 L595.1 155.4 L596.4 153.4 L597.7 151.3 L599.0 149.3 L600.3 147.3 L601.6 145.3 L602.9 143.3 L604.3 141.3 L605.6 139.3 L606.4 137.1 L607.3 134.8 L608.1 132.6 L609.0 130.3 L609.9 128.1 L610.7 125.9 L611.6 123.6 L612.5 121.4 L613.4 119.2 L614.3 117.0 L615.2 114.8 L616.2 112.5 L617.1 110.3 L618.0 108.1 L618.7 105.8 L619.5 103.5 L620.0 101.2 L620.4 98.8 L620.5 98.5" stroke="#009e73" stroke-width="1" fill="none" stroke-linejoin="miter" shape-rendering="crispEdges"/>
<g fill="#009e73"><use href="#mx" x="52" y="438"/><use href="#mx" x="54" y="434"/><use href="#mx" x="56" y="431"/><use href="#mx" x="57" y="428"/><use href="#mx" x="59" y="426"/><use href="#mx" x="61" y="424"/><use href="#mx" x="62" y="423"/><use href="#mx" x="65" y="421"/><use href="#mx" x="67" y="420"/><use href="#mx" x="69" y="418"/><use href="#mx" x="71" y="417"/><use href="#mx" x="72" y="414"/><use href="#mx" x="72" y="411"/><use href="#mx" x="74" y="408"/><use href="#mx" x="76" y="406"/><use href="#mx" x="76" y="403"/><use href="#mx" x="77" y="400"/><use href="#mx" x="78" y="397"/><use href="#mx" x="79" y="394"/><use href="#mx" x="80" y="391"/><use href="#mx" x="80" y="388"/><use href="#mx" x="81" y="385"/><use href="#mx" x="82" y="382"/><use href="#mx" x="85" y="379"/><use href="#mx" x="86" y="376"/><use href="#mx" x="88" y="374"/><use href="#mx" x="89" y="373"/><use href="#mx" x="112" y="371"/><use href="#mx" x="114" y="370"/><use href="#mx" x="116" y="368"/><use href="#mx" x="117" y="368"/><use href="#mx" x="118" y="368"/><use href="#mx" x="119" y="367"/><use href="#mx" x="120" y="366"/><use href="#mx" x="121" y="365"/><use href="#mx" x="122" y="364"/><use href="#mx" x="124" y="360"/><use href="#mx" x="125" y="359"/><use href="#mx" x="127" y="357"/><use href="#mx" x="130" y="355"/><use href="#mx" x="133" y="354"/><use href="#mx" x="148" y="352"/><use href="#mx" x="152" y="350"/><use href="#mx" x="154" y="348"/><use href="#mx" x="160" y="346"/><use href="#mx" x="162" y="344"/><use href="#mx" x="164" y="342"/><use href="#mx" x="174" y="341"/><use href="#mx" x="180" y="339"/><use href="#mx" x="187" y="337"/><use href="#mx" x="193" y="336"/><use href="#mx" x="202" y="333"/><use href="#mx" x="211" y="331"/><use href="#mx" x="230" y="329"/><use href="#mx" x="233" y="328"/><use href="#mx" x="236" y="327"/><use href="#mx" x="239" y="326"/><use href="#mx" x="251" y="325"/><use href="#mx" x="267" y="323"/><use href="#mx" x="286" y="321"/><use href="#mx" x="307" y="320"/><use href="#mx" x="310" y="319"/><use href="#mx" x="351" y="317"/><use href="#mx" x="359" y="316"/><use href="#mx" x="360" y="315"/><use href="#mx" x="361" y="314"/><use href="#mx" x="361" y="312"/><use href="#mx" x="362" y="311"/><use href="#mx" x="363" y="310"/><use href="#mx" x="363" y="309"/><use href="#mx" x="364" y="308"/><use href="#mx" x="365" y="306"/><use href="#mx" x="365" y="305"/><use href="#mx" x="366" y="304"/><use href="#mx" x="366" y="302"/><use href="#mx" x="367" y="301"/><use href="#mx" x="367" y="300"/><use href="#mx" x="368" y="299"/><use href="#mx" x="368" y="297"/><use href="#mx" x="369" y="296"/><use href="#mx" x="370" y="295"/><use href="#mx" x="371" y="294"/><use href="#mx" x="372" y="293"/><use href="#mx" x="373" y="292"/><use href="#mx" x="374" y="291"/><use href="#mx" x="374" y="290"/><use href="#mx" x="375" y="289"/><use href="#mx" x="376" y="287"/><use href="#mx" x="376" y="286"/><use href="#mx" x="377" y="285"/><use href="#mx" x="378" y="284"/><use href="#mx" x="381" y="282"/><use href="#mx" x="385" y="280"/><use href="#mx" x="388" y="280"/><use href="#mx" x="391" y="278"/><use href="#mx" x="396" y="276"/><use href="#mx" x="399" y="274"/><use href="#mx" x="402" y="274"/><use href="#mx" x="410" y="270"/><use href="#mx" x="413" y="269"/><use href="#mx" x="416" y="268"/><use href="#mx" x="419" y="267"/><use href="#mx" x="426" y="266"/><use href="#mx" x="429" y="264"/><use href="#mx" x="432" y="263"/><use href="#mx" x="435" y="261"/><use href="#mx" x="438" y="258"/><use href="#mx" x="440" y="258"/><use href="#mx" x="443" y="256"/><use href="#mx" x="446" y="253"/><use href="#mx" x="450" y="252"/><use href="#mx" x="452" y="250"/><use href="#mx" x="456" y="248"/><use href="#mx" x="458" y="245"/><use href="#mx" x="460" y="243"/><use href="#mx" x="474" y="242"/><use href="#mx" x="486" y="240"/><use href="#mx" x="488" y="239"/><use href="#mx" x="490" y="238"/><use href="#mx" x="492" y="238"/><use href="#mx" x="496" y="235"/><use href="#mx" x="509" y="234"/><use href="#mx" x="520" y="231"/><use href="#mx" x="521" y="229"/><use href="#mx" x="524" y="227"/><use href="#mx" x="526" y="225"/><use href="#mx" x="528" y="224"/><use href="#mx" x="531" y="222"/><use href="#mx" x="534" y="220"/><use href="#mx" x="536" y="218"/><use href="#mx" x="538" y="216"/><use href="#mx" x="541" y="215"/><use href="#mx" x="556" y="213"/><use href="#mx" x="560" y="211"/><use href="#mx" x="563" y="208"/><use href="#mx" x="566" y="207"/><use href="#mx" x="568" y="206"/><use href="#mx" x="570" y="204"/><use href="#mx" x="572" y="203"/><use href="#mx" x="573" y="201"/><use href="#mx" x="573" y="198"/><use href="#mx" x="574" y="196"/><use href="#mx" x="574" y="194"/><use href="#mx" x="574" y="191"/><use href="#mx" x="575" y="189"/><use href="#mx" x="575" y="186"/><use href="#mx" x="575" y="184"/><use href="#mx" x="576" y="182"/><use href="#mx" x="577" y="179"/><use href="#mx" x="577" y="177"/><use href="#mx" x="578" y="175"/><use href="#mx" x="579" y="173"/><use href="#mx" x="580" y="171"/><use href="#mx" x="581" y="169"/><use href="#mx" x="583" y="167"/><use href="#mx" x="585" y="165"/><use href="#mx" x="587" y="164"/><use href="#mx" x="589" y="162"/><use href="#mx" x="591" y="161"/><use href="#mx" x="592" y="159"/><use href="#mx" x="593" y="157"/><use href="#mx" x="595" y="155"/><use href="#mx" x="596" y="153"/><use href="#mx" x="597" y="151"/><use href="#mx" x="598" y="149"/><use href="#mx" x="600" y="147"/><use href="#mx" x="601" y="145"/><use href="#mx" x="602" y="143"/><use href="#mx" x="604" y="141"/><use href="#mx" x="605" y="139"/><use href="#mx" x="606" y="137"/><use href="#mx" x="607" y="134"/><use href="#mx" x="608" y="132"/><use href="#mx" x="608" y="130"/><use href="#mx" x="609" y="128"/><use href="#mx" x="610" y="125"/><use href="#mx" x="611" y="123"/><use href="#mx" x="612" y="121"/><use href="#mx" x="613" y="119"/><use href="#mx" x="614" y="116"/><use href="#mx" x="615" y="114"/><use href="#mx" x="616" y="112"/><use href="#mx" x="617" y="110"/><use href="#mx" x="617" y="108"/><use href="#mx" x="618" y="105"/><use href="#mx" x="619" y="103"/><use href="#mx" x="619" y="101"/><use href="#mx" x="620" y="98"/><use href="#mx" x="620" y="98"/></g>
<path d="M53.5 437.5 L54.0 435.6 L54.5 433.6 L55.0 431.7 L55.4 429.7 L56.3 427.9 L57.2 426.2 L58.3 424.5 L59.5 422.9 L60.6 421.2 L61.8 419.6 L62.9 418.0 L64.1 416.3 L65.2 414.7 L66.3 413.0 L67.2 411.2 L68.1 409.4 L68.9 407.6 L69.8 405.8 L70.5 403.9 L71.0 402.0 L71.7 400.1 L72.4 398.3 L73.1 396.4 L73.8 394.5 L74.5 392.6 L75.1 390.7 L75.8 388.8 L76.5 387.0 L77.3 385.1 L78.1 383.3 L79.0 381.5 L79.5 379.6 L80.0 377.6 L80.4 375.7 L81.2 373.8 L81.9 372.0 L82.7 370.2 L83.8 368.5 L85.1 366.9 L86.5 365.5 L87.9 364.1 L88.5 363.5 L112.5 361.5 L115.5 360.0 L118.5 358.5 L120.5 356.5 L121.2 354.5 L121.8 351.5 L123.2 348.0 L125.8 345.5 L129.2 344.0 L133.5 342.5 L147.5 341.5 L149.5 340.0 L151.0 338.5 L152.5 336.5 L160.5 333.0 L162.0 331.5 L163.5 330.0 L174.5 326.5 L181.5 325.5 L187.5 323.5 L192.5 321.5 L202.5 319.5 L202.5 318.5 L211.5 317.5 L230.5 315.5 L233.5 315.0 L236.5 314.0 L239.5 312.5 L249.5 310.0 L251.5 310.5 L266.5 307.5 L285.5 306.5 L307.5 304.5 L309.5 303.5 L328.5 301.5 L352.5 299.5 L354.5 296.5 L362.5 297.5 L362.7 296.0 L362.9 294.5 L363.1 293.0 L363.3 291.6 L363.6 290.1 L363.8 288.6 L364.1 287.1 L364.3 285.6 L364.6 284.2 L364.9 282.7 L365.3 281.3 L365.7 279.8 L366.2 278.4 L366.6 277.0 L367.0 275.5 L367.4 274.0 L367.9 272.7 L368.6 271.3 L369.3 270.0 L369.9 268.6 L370.6 267.3 L371.3 266.0 L371.9 264.6 L372.6 263.3 L373.3 261.9 L374.0 260.6 L374.6 259.2 L375.1 257.8 L375.8 256.5 L376.5 255.2 L377.3 253.9 L378.1 252.6 L378.9 251.4 L379.5 250.5 L381.5 249.5 L385.5 247.5 L389.5 245.5 L393.5 243.5 L398.5 240.5 L403.5 237.5 L406.5 236.0 L409.5 234.5 L411.5 233.0 L416.5 229.5 L418.5 228.5 L427.5 226.5 L430.0 225.0 L432.5 223.5 L434.5 222.0 L436.4 220.6 L438.4 219.2 L440.3 217.8 L442.4 216.5 L444.4 215.2 L446.5 214.0 L448.5 212.8 L450.6 211.6 L452.3 210.0 L453.9 208.1 L455.4 206.3 L456.9 204.4 L458.3 202.5 L459.5 200.5 L474.5 199.5 L486.5 196.5 L489.5 195.0 L492.5 193.5 L495.0 191.0 L496.5 189.5 L509.5 187.5 L520.5 186.5 L521.5 181.5 L523.5 178.5 L527.5 176.5 L529.5 175.5 L531.5 174.5 L533.5 173.0 L535.5 171.5 L537.5 170.0 L539.5 168.5 L541.5 167.5 L556.5 164.5 L565.5 161.5 L573.0 158.5 L573.1 156.4 L573.3 154.3 L573.4 152.2 L573.6 150.1 L573.9 148.0 L574.3 146.0 L574.6 143.9 L574.9 141.8 L575.3 139.8 L575.6 137.7 L575.9 135.6 L576.2 133.5 L576.5 131.5 L576.9 129.4 L577.3 127.3 L578.0 125.4 L578.8 123.4 L579.6 121.5 L580.5 119.6 L582.0 118.2 L583.6 116.8 L585.2 115.4 L586.8 114.0 L588.3 112.6 L589.5 110.9 L590.4 109.0 L591.2 107.1 L592.0 105.1 L592.6 103.1 L593.3 101.1 L594.2 99.3 L595.3 97.4 L596.3 95.6 L597.3 93.8 L598.3 91.9 L599.2 90.0 L600.2 88.2 L601.1 86.3 L602.0 84.4 L603.0 82.5 L603.9 80.6 L604.9 78.8 L605.8 76.9 L606.8 75.0 L607.8 73.2 L608.8 71.4 L609.9 69.5 L610.9 67.7 L611.8 65.8 L612.8 64.0 L613.7 62.1 L614.7 60.2 L615.4 58.2 L616.1 56.3 L616.7 54.3 L617.4 52.3 L618.1 50.3 L618.6 48.3 L619.2 46.2 L619.7 44.2 L620.3 42.2 L620.5 41.5" stroke="#56b4e9" stroke-width="1" fill="none" stroke-linejoin="miter" shape-rendering="crispEdges"/>
<g fill="#56b4e9"><use href="#ms" x="53" y="437"/><use href="#ms" x="53" y="435"/><use href="#ms" x="54" y="433"/><use href="#ms" x="54" y="431"/><use href="#ms" x="55" y="429"/><use href="#ms" x="56" y="427"/><use href="#ms" x="57" y="426"/><use href="#ms" x="58" y="424"/><use href="#ms" x="59" y="422"/><use href="#ms" x="60" y="421"/><use href="#ms" x="61" y="419"/><use href="#ms" x="62" y="417"/><use href="#ms" x="64" y="416"/><use href="#ms" x="65" y="414"/><use href="#ms" x="66" y="412"/><use href="#ms" x="67" y="411"/><use href="#ms" x="68" y="409"/><use href="#ms" x="68" y="407"/><use href="#ms" x="69" y="405"/><use href="#ms" x="70" y="403"/><use href="#ms" x="71" y="402"/><use href="#ms" x="71" y="400"/><use href="#ms" x="72" y="398"/><use href="#ms" x="73" y="396"/><use href="#ms" x="73" y="394"/><use href="#ms" x="74" y="392"/><use href="#ms" x="75" y="390"/><use href="#ms" x="75" y="388"/><use href="#ms" x="76" y="386"/><use href="#ms" x="77" y="385"/><use href="#ms" x="78" y="383"/><use href="#ms" x="78" y="381"/><use href="#ms" x="79" y="379"/><use href="#ms" x="79" y="377"/><use href="#ms" x="80" y="375"/><use href="#ms" x="81" y="373"/><use href="#ms" x="81" y="371"/><use href="#ms" x="82" y="370"/><use href="#ms" x="83" y="368"/><use href="#ms" x="85" y="366"/><use href="#ms" x="86" y="365"/><use href="#ms" x="87" y="364"/><use href="#ms" x="88" y="363"/><use href="#ms" x="112" y="361"/><use href="#ms" x="115" y="360"/><use href="#ms" x="118" y="358"/><use href="#ms" x="120" y="356"/><use href="#ms" x="121" y="354"/><use href="#ms" x="121" y="351"/><use href="#ms" x="123" y="348"/><use href="#ms" x="125" y="345"/><use href="#ms" x="129" y="344"/><use href="#ms" x="133" y="342"/><use href="#ms" x="147" y="341"/><use href="#ms" x="149" y="340"/><use href="#ms" x="150" y="338"/><use href="#ms" x="152" y="336"/><use href="#ms" x="160" y="332"/><use href="#ms" x="162" y="331"/><use href="#ms" x="163" y="330"/><use href="#ms" x="174" y="326"/><use href="#ms" x="181" y="325"/><use href="#ms" x="187" y="323"/><use href="#ms" x="192" y="321"/><use href="#ms" x="202" y="319"/><use href="#ms" x="202" y="318"/><use href="#ms" x="211" y="317"/><use href="#ms" x="230" y="315"/><use href="#ms" x="233" y="314"/><use href="#ms" x="236" y="314"/><use href="#ms" x="239" y="312"/><use href="#ms" x="249" y="310"/><use href="#ms" x="251" y="310"/><use href="#ms" x="266" y="307"/><use href="#ms" x="285" y="306"/><use href="#ms" x="307" y="304"/><use href="#ms" x="309" y="303"/><use href="#ms" x="328" y="301"/><use href="#ms" x="352" y="299"/><use href="#ms" x="354" y="296"/><use href="#ms" x="362" y="297"/><use href="#ms" x="362" y="296"/><use href="#ms" x="362" y="294"/><use href="#ms" x="363" y="293"/><use href="#ms" x="363" y="291"/><use href="#ms" x="363" y="290"/><use href="#ms" x="363" y="288"/><use href="#ms" x="364" y="287"/><use href="#ms" x="364" y="285"/><use href="#ms" x="364" y="284"/><use href="#ms" x="364" y="282"/><use href="#ms" x="365" y="281"/><use href="#ms" x="365" y="279"/><use href="#ms" x="366" y="278"/><use href="#ms" x="366" y="276"/><use href="#ms" x="366" y="275"/><use href="#ms" x="367" y="274"/><use href="#ms" x="367" y="272"/><use href="#ms" x="368" y="271"/><use href="#ms" x="369" y="269"/><use href="#ms" x="369" y="268"/><use href="#ms" x="370" y="267"/><use href="#ms" x="371" y="265"/><use href="#ms" x="371" y="264"/><use href="#ms" x="372" y="263"/><use href="#ms" x="373" y="261"/><use href="#ms" x="373" y="260"/><use href="#ms" x="374" y="259"/><use href="#ms" x="375" y="257"/><use href="#ms" x="375" y="256"/><use href="#ms" x="376" y="255"/><use href="#ms" x="377" y="253"/><use href="#ms" x="378" y="252"/><use href="#ms" x="378" y="251"/><use href="#ms" x="379" y="250"/><use href="#ms" x="381" y="249"/><use href="#ms" x="385" y="247"/><use href="#ms" x="389" y="245"/><use href="#ms" x="393" y="243"/><use href="#ms" x="398" y="240"/><use href="#ms" x="403" y="237"/><use href="#ms" x="406" y="236"/><use href="#ms" x="409" y="234"/><use href="#ms" x="411" y="232"/><use href="#ms" x="416" y="229"/><use href="#ms" x="418" y="228"/><use href="#ms" x="427" y="226"/><use href="#ms" x="430" y="224"/><use href="#ms" x="432" y="223"/><use href="#ms" x="434" y="222"/><use href="#ms" x="436" y="220"/><use href="#ms" x="438" y="219"/><use href="#ms" x="440" y="217"/><use href="#ms" x="442" y="216"/><use href="#ms" x="444" y="215"/><use href="#ms" x="446" y="213"/><use href="#ms" x="448" y="212"/><use href="#ms" x="450" y="211"/><use href="#ms" x="452" y="209"/><use href="#ms" x="453" y="208"/><use href="#ms" x="455" y="206"/><use href="#ms" x="456" y="204"/><use href="#ms" x="458" y="202"/><use href="#ms" x="459" y="200"/><use href="#ms" x="474" y="199"/><use href="#ms" x="486" y="196"/><use href="#ms" x="489" y="194"/><use href="#ms" x="492" y="193"/><use href="#ms" x="494" y="190"/><use href="#ms" x="496" y="189"/><use href="#ms" x="509" y="187"/><use href="#ms" x="520" y="186"/><use href="#ms" x="521" y="181"/><use href="#ms" x="523" y="178"/><use href="#ms" x="527" y="176"/><use href="#ms" x="529" y="175"/><use href="#ms" x="531" y="174"/><use href="#ms" x="533" y="172"/><use href="#ms" x="535" y="171"/><use href="#ms" x="537" y="170"/><use href="#ms" x="539" y="168"/><use href="#ms" x="541" y="167"/><use href="#ms" x="556" y="164"/><use href="#ms" x="565" y="161"/><use href="#ms" x="572" y="158"/><use href="#ms" x="573" y="156"/><use href="#ms" x="573" y="154"/><use href="#ms" x="573" y="152"/><use href="#ms" x="573" y="150"/><use href="#ms" x="573" y="148"/><use href="#ms" x="574" y="145"/><use href="#ms" x="574" y="143"/><use href="#ms" x="574" y="141"/><use href="#ms" x="575" y="139"/><use href="#ms" x="575" y="137"/><use href="#ms" x="575" y="135"/><use href="#ms" x="576" y="133"/><use href="#ms" x="576" y="131"/><use href="#ms" x="576" y="129"/><use href="#ms" x="577" y="127"/><use href="#ms" x="577" y="125"/><use href="#ms" x="578" y="123"/><use href="#ms" x="579" y="121"/><use href="#ms" x="580" y="119"/><use href="#ms" x="582" y="118"/><use href="#ms" x="583" y="116"/><use href="#ms" x="585" y="115"/><use href="#ms" x="586" y="113"/><use href="#ms" x="588" y="112"/><use href="#ms" x="589" y="110"/><use href="#ms" x="590" y="108"/><use href="#ms" x="591" y="107"/><use href="#ms" x="591" y="105"/><use href="#ms" x="592" y="103"/><use href="#ms" x="593" y="101"/><use href="#ms" x="594" y="99"/><use href="#ms" x="595" y="97"/><use href="#ms" x="596" y="95"/><use href="#ms" x="597" y="93"/><use href="#ms" x="598" y="91"/><use href="#ms" x="599" y="90"/><use href="#ms" x="600" y="88"/><use href="#ms" x="601" y="86"/><use href="#ms" x="602" y="84"/><use href="#ms" x="602" y="82"/><use href="#ms" x="603" y="80"/><use href="#ms" x="604" y="78"/><use href="#ms" x="605" y="76"/><use href="#ms" x="606" y="75"/><use href="#ms" x="607" y="73"/><use href="#ms" x="608" y="71"/><use href="#ms" x="609" y="69"/><use href="#ms" x="610" y="67"/><use href="#ms" x="611" y="65"/><use href="#ms" x="612" y="63"/><use href="#ms" x="613" y="62"/><use href="#ms" x="614" y="60"/><use href="#ms" x="615" y="58"/><use href="#ms" x="616" y="56"/><use href="#ms" x="616" y="54"/><use href="#ms" x="617" y="52"/><use href="#ms" x="618" y="50"/><use href="#ms" x="618" y="48"/><use href="#ms" x="619" y="46"/><use href="#ms" x="619" y="44"/><use href="#ms" x="620" y="42"/><use href="#ms" x="620" y="41"/><use href="#ms" x="53" y="428"/><use href="#ms" x="54" y="426"/><use href="#ms" x="54" y="424"/><use href="#ms" x="55" y="422"/><use href="#ms" x="56" y="420"/><use href="#ms" x="58" y="418"/><use href="#ms" x="59" y="416"/><use href="#ms" x="60" y="415"/><use href="#ms" x="62" y="413"/><use href="#ms" x="63" y="411"/><use href="#ms" x="64" y="409"/><use href="#ms" x="65" y="407"/><use href="#ms" x="66" y="405"/><use href="#ms" x="67" y="403"/><use href="#ms" x="68" y="401"/><use href="#ms" x="69" y="399"/><use href="#ms" x="70" y="397"/><use href="#ms" x="70" y="395"/><use href="#ms" x="71" y="393"/><use href="#ms" x="72" y="391"/><use href="#ms" x="73" y="389"/><use href="#ms" x="74" y="387"/><use href="#ms" x="74" y="385"/><use href="#ms" x="75" y="383"/><use href="#ms" x="76" y="381"/><use href="#ms" x="77" y="379"/><use href="#ms" x="77" y="377"/><use href="#ms" x="78" y="375"/><use href="#ms" x="79" y="372"/><use href="#ms" x="80" y="370"/><use href="#ms" x="81" y="369"/><use href="#ms" x="82" y="367"/><use href="#ms" x="82" y="366"/></g>
<path d="M54.5 436.5 L54.5 431.5 L57.9 428.2 L61.4 424.1 L65.0 420.6 L68.2 419.8 L70.4 417.9 L71.2 414.1 L72.1 409.5 L73.6 407.7 L75.2 405.8 L76.1 403.0 L76.5 401.1 L77.4 399.5 L78.5 396.5 L79.8 392.5 L80.5 388.5 L80.8 385.5 L82.5 384.5 L85.2 383.5 L86.5 381.5 L88.5 380.0 L93.5 379.5 L95.5 378.5 L106.5 378.5 L107.5 377.5 L116.5 377.5 L117.5 376.5 L121.5 376.5 L121.5 370.5 L124.0 369.2 L126.5 367.5 L129.8 365.5 L133.2 363.8 L136.5 363.4 L141.5 362.5 L147.3 361.8 L150.7 360.9 L151.9 359.7 L154.0 358.8 L160.5 357.8 L163.5 354.0 L169.2 353.4 L175.2 352.6 L177.5 351.5 L184.5 350.6 L188.0 349.2 L200.5 345.5 L210.5 343.0 L216.5 342.8 L223.0 341.8 L230.5 341.5 L238.0 338.4 L245.5 337.4 L255.5 336.5 L263.0 335.5 L278.0 334.0 L293.0 333.0 L300.5 332.5 L309.2 330.2 L330.5 329.5 L338.0 328.6 L354.9 327.7 L362.2 326.6 L362.7 322.0 L365.3 317.8 L366.9 313.6 L370.0 306.3 L373.1 300.6 L376.8 297.0 L380.4 293.8 L385.1 292.5 L392.2 289.7 L402.4 284.6 L411.1 282.5 L418.4 278.8 L425.7 278.1 L433.0 275.2 L438.8 271.8 L443.2 268.0 L448.5 266.5 L453.8 264.2 L457.5 262.0 L459.4 259.0 L463.5 257.9 L470.5 258.0 L486.8 255.2 L494.2 251.8 L501.8 250.8 L514.2 249.5 L520.5 248.6 L523.6 244.2 L530.5 242.4 L534.1 242.7 L534.7 239.5 L536.8 238.0 L539.9 237.0 L540.9 235.9 L548.2 235.4 L549.2 234.7 L557.5 234.4 L559.1 233.3 L564.9 231.8 L566.5 230.2 L567.5 228.8 L571.6 228.1 L573.2 227.1 L573.7 224.5 L573.8 212.5 L575.2 209.2 L576.2 204.8 L577.2 201.8 L578.5 200.5 L579.2 196.5 L579.8 194.8 L581.2 193.2 L583.8 192.2 L587.8 191.2 L589.8 189.2 L590.5 186.0 L593.5 179.1 L596.9 174.0 L601.5 171.7 L602.5 165.4 L604.3 161.4 L608.9 158.5 L611.2 153.9 L613.5 146.8 L616.8 139.2 L619.2 134.2 L620.5 126.5" stroke="#e69f00" stroke-width="1" fill="none" stroke-linejoin="miter" shape-rendering="crispEdges"/>
<rect x="52.5" y="39.5" width="569" height="399" fill="none" stroke="#000" stroke-width="1" shape-rendering="crispEdges"/>
<path d="M160 50.5H189" stroke="#9400d3" stroke-width="1" shape-rendering="crispEdges"/>
<use href="#mp" x="174" y="50" fill="#9400d3"/>
<path d="M160 63.5H189" stroke="#009e73" stroke-width="1" shape-rendering="crispEdges"/>
<use href="#mx" x="174" y="63" fill="#009e73"/>
<path d="M160 76.5H189" stroke="#56b4e9" stroke-width="1" shape-rendering="crispEdges"/>
<use href="#ms" x="174" y="76" fill="#56b4e9"/>
<path d="M160 89.5H189" stroke="#e69f00" stroke-width="1" shape-rendering="crispEdges"/>
</svg></body></html>
